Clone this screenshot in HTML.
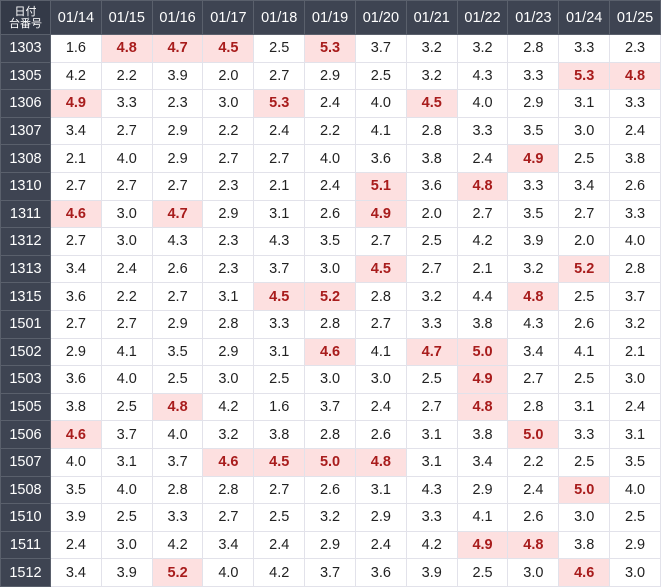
<!DOCTYPE html><html><head><meta charset="utf-8"><style>
body{margin:0;background:#fff;font-family:"Liberation Sans","Noto Sans CJK JP",sans-serif}
table{border-collapse:collapse;table-layout:fixed;width:661px;position:absolute;left:0;top:0}
td,th{border:1px solid #e2e2ea;text-align:center;padding:0;font-size:14.5px;color:#222;font-weight:normal}
th{background:#3e4452;color:#fff;height:33px;font-size:14.5px;border-color:#5a606c}
th.c{font-size:11px;line-height:12px;background:#343a48}
td{height:26.6px}
td.h{background:#3e4452;color:#fff;border-color:#5a606c}
td.r{background:#fde0e0;color:#a81c1c;font-weight:bold}
</style></head><body><table id="t"><colgroup><col style="width:50px"></colgroup></table>
<script>
const dates=["01/14","01/15","01/16","01/17","01/18","01/19","01/20","01/21","01/22","01/23","01/24","01/25"];
const d=`1303 1.6 4.8 4.7 4.5 2.5 5.3 3.7 3.2 3.2 2.8 3.3 2.3
1305 4.2 2.2 3.9 2.0 2.7 2.9 2.5 3.2 4.3 3.3 5.3 4.8
1306 4.9 3.3 2.3 3.0 5.3 2.4 4.0 4.5 4.0 2.9 3.1 3.3
1307 3.4 2.7 2.9 2.2 2.4 2.2 4.1 2.8 3.3 3.5 3.0 2.4
1308 2.1 4.0 2.9 2.7 2.7 4.0 3.6 3.8 2.4 4.9 2.5 3.8
1310 2.7 2.7 2.7 2.3 2.1 2.4 5.1 3.6 4.8 3.3 3.4 2.6
1311 4.6 3.0 4.7 2.9 3.1 2.6 4.9 2.0 2.7 3.5 2.7 3.3
1312 2.7 3.0 4.3 2.3 4.3 3.5 2.7 2.5 4.2 3.9 2.0 4.0
1313 3.4 2.4 2.6 2.3 3.7 3.0 4.5 2.7 2.1 3.2 5.2 2.8
1315 3.6 2.2 2.7 3.1 4.5 5.2 2.8 3.2 4.4 4.8 2.5 3.7
1501 2.7 2.7 2.9 2.8 3.3 2.8 2.7 3.3 3.8 4.3 2.6 3.2
1502 2.9 4.1 3.5 2.9 3.1 4.6 4.1 4.7 5.0 3.4 4.1 2.1
1503 3.6 4.0 2.5 3.0 2.5 3.0 3.0 2.5 4.9 2.7 2.5 3.0
1505 3.8 2.5 4.8 4.2 1.6 3.7 2.4 2.7 4.8 2.8 3.1 2.4
1506 4.6 3.7 4.0 3.2 3.8 2.8 2.6 3.1 3.8 5.0 3.3 3.1
1507 4.0 3.1 3.7 4.6 4.5 5.0 4.8 3.1 3.4 2.2 2.5 3.5
1508 3.5 4.0 2.8 2.8 2.7 2.6 3.1 4.3 2.9 2.4 5.0 4.0
1510 3.9 2.5 3.3 2.7 2.5 3.2 2.9 3.3 4.1 2.6 3.0 2.5
1511 2.4 3.0 4.2 3.4 2.4 2.9 2.4 4.2 4.9 4.8 3.8 2.9
1512 3.4 3.9 5.2 4.0 4.2 3.7 3.6 3.9 2.5 3.0 4.6 3.0`;
let h='<colgroup><col style="width:50px"></colgroup><tr><th class="c">日付<br>台番号</th>'+dates.map(x=>'<th>'+x+'</th>').join('')+'</tr>';
d.split('\n').forEach(l=>{const p=l.trim().split(' ');h+='<tr><td class="h">'+p[0]+'</td>'+p.slice(1).map(v=>'<td'+(parseFloat(v)>=4.5?' class="r"':'')+'>'+v+'</td>').join('')+'</tr>';});
document.getElementById('t').innerHTML=h;
</script></body></html>
